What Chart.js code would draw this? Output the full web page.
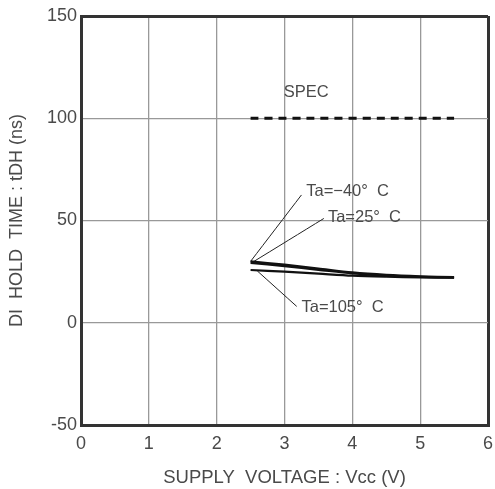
<!DOCTYPE html>
<html>
<head>
<meta charset="utf-8">
<script src="https://cdn.jsdelivr.net/npm/chart.js@4/dist/chart.umd.min.js"></script>
<style>
  html, body { margin: 0; padding: 0; background: #fff; }
  #wrap { width: 495px; height: 489px; }
</style>
</head>
<body>
<div id="wrap"><canvas id="holdChart"></canvas></div>
<script>
// supply voltage (V)
var vcc = [2.5, 3, 3.5, 4, 4.5, 5, 5.5];
// hold time tDH (ns) per temperature
var tdhMinus40 = [30.0, 28.4, 26.5, 24.6, 23.4, 22.7, 22.3];
var tdh25 = [29.3, 27.7, 25.9, 24.1, 23.0, 22.4, 22.1];
var tdh105 = [25.8, 25.0, 24.0, 23.0, 22.5, 22.2, 22.0];
// spec limit
var specVcc = [2.5, 5.5];
var specValue = 100;
// tick labels
var xTicks = [0, 1, 2, 3, 4, 5, 6];
var yTicks = [-50, 0, 50, 100, 150];
// callout labels: text, anchor point on curve, label point
var callouts = [
  { text: 'Ta=\u221240\u00b0  C', from: [2.5, 30.0], to: [3.25, 62.5], at: [3.32, 64] },
  { text: 'Ta=25\u00b0  C', from: [2.53, 29.6], to: [3.58, 51], at: [3.64, 51.5] },
  { text: 'Ta=105\u00b0  C', from: [2.6, 25.3], to: [3.18, 8], at: [3.25, 7.3] }
];
var specLabel = { text: 'SPEC', at: [2.99, 112.5] };

function pts(xs, ys) {
  return xs.map(function (x, i) { return { x: x, y: ys[i] }; });
}

var txtColor = '#4a4a4a';
var fontFam = '"Liberation Sans", Arial, sans-serif';

var datasets = [
  { data: pts(vcc, tdhMinus40), borderColor: '#111', borderWidth: 2.2 },
  { data: pts(vcc, tdh25), borderColor: '#111', borderWidth: 2.2 },
  { data: pts(vcc, tdh105), borderColor: '#111', borderWidth: 2.2 },
  { data: pts(specVcc, [specValue, specValue]), borderColor: '#111', borderWidth: 3, borderDash: [8, 6] }
];
callouts.forEach(function (c) {
  datasets.push({
    data: [{ x: c.from[0], y: c.from[1] }, { x: c.to[0], y: c.to[1] }],
    borderColor: '#222', borderWidth: 1
  });
});
datasets.forEach(function (d) {
  d.pointRadius = 0;
  d.tension = 0.3;
  d.fill = false;
});

// draws the text callouts through the scales
var labelPlugin = {
  id: 'labels',
  afterDatasetsDraw: function (chart) {
    var ctx = chart.ctx, xs = chart.scales.x, ys = chart.scales.y;
    ctx.save();
    ctx.fillStyle = txtColor;
    ctx.font = '16.5px ' + fontFam;
    ctx.textBaseline = 'middle';
    ctx.textAlign = 'left';
    callouts.forEach(function (c) {
      ctx.fillText(c.text, xs.getPixelForValue(c.at[0]), ys.getPixelForValue(c.at[1]));
    });
    ctx.fillText(specLabel.text, xs.getPixelForValue(specLabel.at[0]), ys.getPixelForValue(specLabel.at[1]));
    ctx.restore();
  }
};

new Chart(document.getElementById('holdChart'), {
  type: 'line',
  data: { datasets: datasets },
  options: {
    responsive: true,
    maintainAspectRatio: false,
    animation: false,
    layout: { padding: { left: 6, right: 7, top: 16, bottom: 0 } },
    plugins: { legend: { display: false }, tooltip: { enabled: false } },
    scales: {
      x: {
        type: 'linear', min: 0, max: 6,
        afterBuildTicks: function (s) { s.ticks = xTicks.map(function (v) { return { value: v }; }); },
        afterFit: function (s) { s.height = 64; s.paddingLeft = 0; s.paddingRight = 0; },
        grid: {
          drawTicks: false,
          color: function (c) { return (c.tick.value === 0 || c.tick.value === 6) ? '#333' : '#999'; },
          lineWidth: function (c) { return (c.tick.value === 0 || c.tick.value === 6) ? 3 : 1.3; }
        },
        border: { display: true, color: '#333', width: 3 },
        ticks: { color: txtColor, padding: 8, font: { size: 18, family: fontFam } },
        title: {
          display: true, text: 'SUPPLY  VOLTAGE : Vcc (V)', color: txtColor,
          padding: { top: 6, bottom: 0 }, font: { size: 18.5, family: fontFam }
        }
      },
      y: {
        type: 'linear', min: -50, max: 150,
        afterBuildTicks: function (s) { s.ticks = yTicks.map(function (v) { return { value: v }; }); },
        afterFit: function (s) { s.width = 75; s.paddingTop = 0; s.paddingBottom = 0; },
        grid: {
          drawTicks: false,
          color: function (c) { return (c.tick.value === -50 || c.tick.value === 150) ? '#333' : '#999'; },
          lineWidth: function (c) { return (c.tick.value === -50 || c.tick.value === 150) ? 3 : 1.3; }
        },
        border: { display: true, color: '#333', width: 3 },
        ticks: { color: txtColor, padding: 4, font: { size: 18, family: fontFam } },
        title: {
          display: true, text: 'DI  HOLD  TIME : tDH (ns)', color: txtColor,
          padding: { top: 0, bottom: 2 }, font: { size: 18, family: fontFam }
        }
      }
    }
  },
  plugins: [labelPlugin]
});
</script>
</body>
</html>
